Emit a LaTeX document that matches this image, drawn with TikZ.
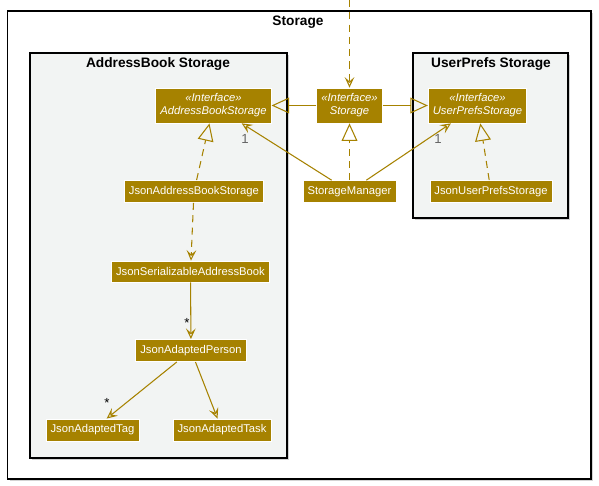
\documentclass[tikz,border=0pt]{standalone}
\usepackage{fontspec}
\setmainfont{Liberation Sans}
\usetikzlibrary{arrows.meta, positioning, shadows}
\definecolor{gold}{RGB}{166,130,0}
\definecolor{pkgfill}{RGB}{242,244,243}

\begin{document}
\begin{tikzpicture}[
    x=0.02cm, y=-0.02cm,
    frame/.style={draw=black, line width=0.7pt, drop shadow={shadow xshift=1.2pt, shadow yshift=-1.2pt, opacity=0.35}},
    pkg/.style={frame, line width=0.8pt, fill=pkgfill},
    title/.style={font=\fontsize{7.8}{9}\selectfont\bfseries},
    cls/.style={rectangle, fill=gold, draw=white, line width=0.4pt, text=white, font=\fontsize{6.4}{7.5}\selectfont, inner xsep=2.6pt, minimum height=0.42cm},
    iface/.style={cls, font=\fontsize{6.4}{7.5}\selectfont\itshape, align=center, minimum height=0.7cm, inner ysep=1pt},
    mult/.style={font=\fontsize{7.5}{8}\selectfont, inner sep=0pt},
    link/.style={draw=gold, line width=0.6pt},
    assoc/.style={link, -{Stealth[open, length=6pt, width=5.5pt, inset=2.5pt]}},
    depend/.style={assoc, dash pattern=on 4pt off 3pt},
    extend/.style={link, -{Triangle[open, length=10pt, width=9pt]}},
    realize/.style={extend, dash pattern=on 4pt off 3pt}
]
\useasboundingbox (0,0) rectangle (599,486);

% frames
\draw[frame, fill=white] (7.5,11) rectangle (591,479);
\node[title] (storagetitle) at (298,22.5) {Storage};
\draw[pkg] (30,53) rectangle (287,458);
\node[title] (abtitle) at (158,64) {AddressBook Storage};
\draw[pkg] (413,53) rectangle (568,218);
\node[title] (uptitle) at (491,64) {UserPrefs Storage};

% classes
\node[iface] (abs) at (213.5,105.5) {«Interface»\\AddressBookStorage};
\node[iface] (storage) at (349.5,105.5) {«Interface»\\Storage};
\node[iface] (ups) at (477.5,105.5) {«Interface»\\UserPrefsStorage};
\node[cls] (jabs) at (194,191.5) {JsonAddressBookStorage};
\node[cls] (manager) at (349.5,191.5) {StorageManager};
\node[cls] (jups) at (491,191.5) {JsonUserPrefsStorage};
\node[cls] (jsab) at (190.5,271.5) {JsonSerializableAddressBook};
\node[cls] (jap) at (191,350.5) {JsonAdaptedPerson};
\node[cls] (jtag) at (92.5,430) {JsonAdaptedTag};
\node[cls] (jtask) at (222,430) {JsonAdaptedTask};
\coordinate (entry) at (349.5,0);

% connectors
\draw[depend] (entry) -- (storage);
\draw[extend] (storage) -- (abs);
\draw[extend] (storage) -- (ups);
\draw[realize] (manager) -- (storage);
\draw[realize] (jabs) -- (abs);
\draw[realize] (jups) -- (ups);
\draw[assoc] (manager) -- (abs);
\draw[assoc] (manager) -- (ups);
\draw[depend] (jabs) -- (jsab);
\draw[assoc] (jsab) -- (jap);
\draw[assoc] (jap) -- (jtag);
\draw[assoc] (jap) -- (jtask);

% multiplicities
\node[mult, text=black!60] (m1) at (245,139) {1};
\node[mult, text=black!60] (m2) at (438,139) {1};
\node[mult] (m3) at (187,323) {*};
\node[mult] (m4) at (107,403) {*};
\end{tikzpicture}
\end{document}
